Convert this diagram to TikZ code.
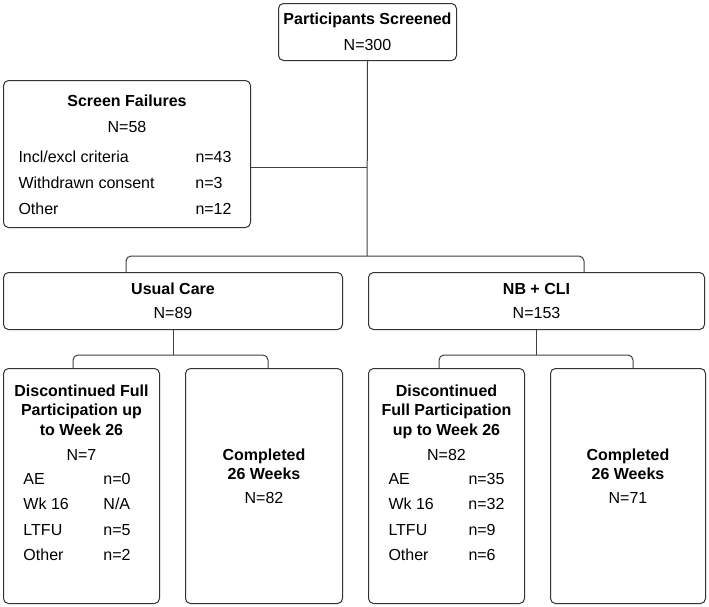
\documentclass[tikz,border=0pt]{standalone}
\usepackage{fontspec}
\setmainfont{Liberation Sans}
\begin{document}
\begin{tikzpicture}[x=1pt,y=-1pt,
    font=\fontsize{16}{19.5}\selectfont,
    box/.style={draw=black!80,line width=1pt,rounded corners=5pt,inner sep=0pt,anchor=north west},
    link/.style={draw=black!75,line width=1pt},
    fork/.style={link,rounded corners=5pt}]
\useasboundingbox (0,0) rectangle (709,606);
\node[box,minimum width=178,minimum height=57,align=center] (screened) at (278,3)
  {\textbf{Participants Screened}\\[6.5pt]N=300};
\node[box] (fail) at (3,80) {\parbox[c][147pt][t]{247pt}{\centering\vspace*{14pt}
  \textbf{Screen Failures}\\[6.5pt]N=58\\[10.5pt]
  \renewcommand{\arraystretch}{1.333}%
  \begin{tabular}[t]{@{}p{177pt}@{}p{40pt}@{}}
  Incl/excl criteria & n=43\\ Withdrawn consent & n=3\\ Other & n=12
  \end{tabular}}};
\node[box,minimum width=339,minimum height=57,align=center] (usual) at (3,272)
  {\textbf{Usual Care}\\[5pt]N=89};
\node[box,minimum width=336,minimum height=57,align=center] (nb) at (368,272)
  {\textbf{NB + CLI}\\[5pt]N=153};
\node[box] (ucstop) at (3,368) {\parbox[c][235pt][t]{156pt}{\centering\vspace*{16pt}
  {\bfseries Discontinued Full\\Participation up\\to Week 26}\\[6pt]N=7\\[4.5pt]
  \renewcommand{\arraystretch}{1.3}%
  \begin{tabular}[t]{@{}p{80pt}@{}p{36pt}@{}}
  AE & n=0\\ Wk 16 & N/A\\ LTFU & n=5\\ Other & n=2
  \end{tabular}}};
\node[box] (ucdone) at (185,368) {\parbox[c][235pt][t]{157pt}{\centering\vspace*{80pt}
  {\bfseries Completed\\26 Weeks}\\[4pt]N=82}};
\node[box] (nbstop) at (368,368) {\parbox[c][235pt][t]{156pt}{\centering\vspace*{16pt}
  {\bfseries Discontinued\\Full Participation\\up to Week 26}\\[6pt]N=82\\[4.5pt]
  \renewcommand{\arraystretch}{1.3}%
  \begin{tabular}[t]{@{}p{80pt}@{}p{36pt}@{}}
  AE & n=35\\ Wk 16 & n=32\\ LTFU & n=9\\ Other & n=6
  \end{tabular}}};
\node[box] (nbdone) at (550,368) {\parbox[c][235pt][t]{155pt}{\centering\vspace*{80pt}
  {\bfseries Completed\\26 Weeks}\\[4pt]N=71}};
\coordinate (failjoin) at (367,167);
\coordinate (split) at (367,256);
\coordinate (ucdrop) at (126,256);
\coordinate (nbdrop) at (584,256);
\coordinate (ucl) at (73,355);
\coordinate (ucr) at (268,355);
\coordinate (nbl) at (439,355);
\coordinate (nbr) at (633,355);
\draw[link] (screened.south) -- (split);
\draw[link] (fail.east |- failjoin) -- (failjoin);
\draw[fork] (usual.north -| ucdrop) |- (split) -| (nb.north -| nbdrop);
\draw[link] (usual.south) -- (usual.south |- ucl);
\draw[fork] (ucstop.north -| ucl) -- (ucl) -- (ucr) -- (ucdone.north -| ucr);
\draw[link] (nb.south) -- (nb.south |- nbl);
\draw[fork] (nbstop.north -| nbl) -- (nbl) -- (nbr) -- (nbdone.north -| nbr);
\end{tikzpicture}
\end{document}
